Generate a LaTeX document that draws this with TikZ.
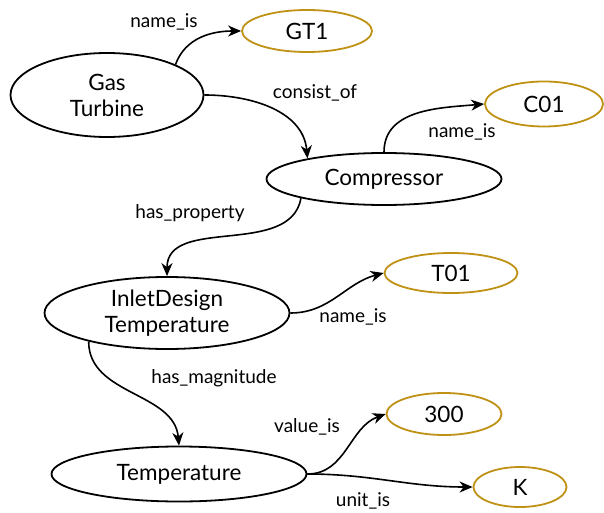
\documentclass[tikz,border=0pt]{standalone}
\usepackage{fontspec}
\setmainfont{Lato}
\usetikzlibrary{shapes.geometric,arrows.meta}
\definecolor{gold}{RGB}{191,145,20}
\tikzset{
  concept/.style={draw, ellipse, line width=1.8pt, inner sep=0pt, align=center, font=\fontsize{22.5}{26}\selectfont},
  literal/.style={concept, draw=gold},
  rel/.style={line width=1.6pt, -{Stealth[length=13pt,width=11pt,inset=4pt]}},
  rellabel/.style={font=\fontsize{19}{22}\selectfont, inner sep=0pt}
}
\begin{document}
\begin{tikzpicture}[x=1pt, y=1pt]
    \useasboundingbox (0,0) rectangle (604,-513);
    % classes
    \node[concept, minimum width=193, minimum height=84] (gasturbine) at (107,-95) {Gas\\Turbine};
    \node[concept, minimum width=235, minimum height=52] (compressor) at (384,-179) {Compressor};
    \node[concept, minimum width=245, minimum height=72] (inlettemp) at (167,-313) {InletDesign\\Temperature};
    \node[concept, minimum width=255, minimum height=55] (temperature) at (179,-474) {Temperature};
    % values
    \node[literal, minimum width=130, minimum height=42] (gtname) at (307,-31) {GT1};
    \node[literal, minimum width=118, minimum height=45] (cname) at (544,-104) {C01};
    \node[literal, minimum width=133, minimum height=40] (tname) at (451,-273) {T01};
    \node[literal, minimum width=115, minimum height=42] (value) at (444,-414) {300};
    \node[literal, minimum width=93, minimum height=40] (unit) at (520,-487) {K};
    % relations
    \draw[rel] (gasturbine.24) to[out=70, in=180] (gtname.west);
    \draw[rel] (gasturbine.east) to[out=0, in=95] (compressor.165);
    \draw[rel] (compressor.north) to[out=90, in=185] (cname.west);
    \draw[rel] (compressor.193) to[out=-100, in=90] (inlettemp.north);
    \draw[rel] (inlettemp.east) to[out=0, in=195] (tname.west);
    \draw[rel] (inlettemp.200) to[out=-90, in=95] (temperature.north);
    \draw[rel] (temperature.east) to[out=0, in=200] (value.west);
    \draw[rel] (temperature.east) to[out=0, in=180] (unit.west);
    % labels
    \node[rellabel] (l1) at (164,-22) {name\_is};
    \node[rellabel] (l2) at (315,-93) {consist\_of};
    \node[rellabel] (l3) at (462,-132) {name\_is};
    \node[rellabel] (l4) at (190,-213) {has\_property};
    \node[rellabel] (l5) at (353,-317) {name\_is};
    \node[rellabel] (l6) at (214,-378) {has\_magnitude};
    \node[rellabel] (l7) at (307,-427) {value\_is};
    \node[rellabel] (l8) at (363,-501) {unit\_is};
\end{tikzpicture}
\end{document}
